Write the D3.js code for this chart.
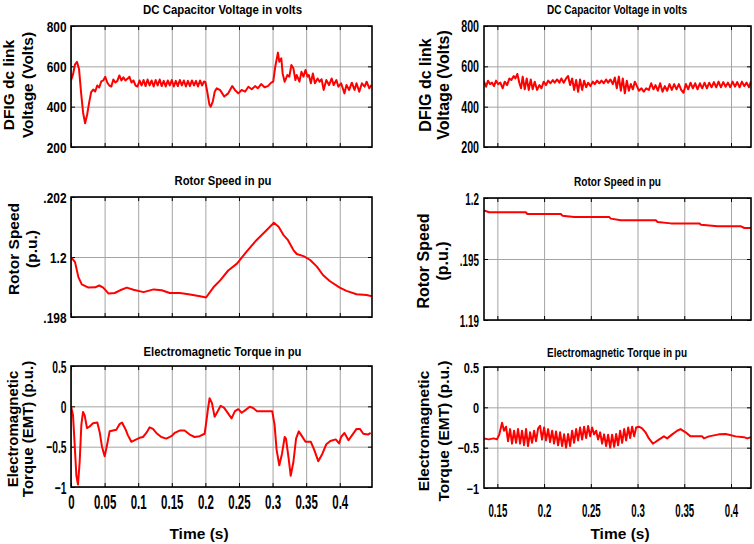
<!DOCTYPE html>
<html>
<head>
<meta charset="utf-8">
<script src="https://cdn.jsdelivr.net/npm/d3@7"></script>
<style>
  body { margin: 0; background: #fff; }
  svg { display: block; }
  .narrow { font-family: "Liberation Sans", Arial, sans-serif; font-weight: bold; }
  .lab { font-family: "Liberation Sans", Arial, sans-serif; font-weight: bold; }
</style>
</head>
<body>
<script>
// ---- tick values / labels ----
var timeTicksLeft = [0, 0.05, 0.1, 0.15, 0.2, 0.25, 0.3, 0.35, 0.4];
var timeTicksRight = [0.15, 0.2, 0.25, 0.3, 0.35, 0.4];
var voltTicks = [200, 400, 600, 800];
var speedTicksLeft = [1.198, 1.2, 1.202];
var speedLabelsLeft = [".198", "1.2", ".202"];
var speedTicksRight = [1.19, 1.195, 1.2];
var speedLabelsRight = ["1.19", ".195", "1.2"];
var torqueTicks = [-1, -0.5, 0, 0.5];

// ---- series: [time (s), value] ----
var dcLeft = [[0,530],[0.003,560],[0.006,610],[0.009,622],[0.012,585],[0.015,470],[0.018,370],[0.021,318],[0.024,360],[0.027,420],
  [0.030,472],[0.033,485],[0.036,475],[0.039,505],[0.042,495],[0.045,525],[0.048,530],[0.051,548],[0.054,520],[0.057,505],
  [0.060,500],[0.063,535],[0.066,520],[0.069,528],[0.072,555],[0.075,530],[0.078,545],[0.081,530],[0.084,538],[0.087,548],
  [0.090,520],[0.093,530],[0.096,505],[0.099,500],[0.102,530],[0.105,505],[0.108,532],[0.111,502],[0.114,535],[0.117,505],
  [0.120,530],[0.123,500],[0.126,532],[0.129,505],[0.132,535],[0.135,502],[0.138,528],[0.141,500],[0.144,530],[0.147,505],
  [0.150,532],[0.153,500],[0.156,528],[0.159,502],[0.162,532],[0.165,505],[0.168,530],[0.171,500],[0.174,528],[0.177,502],
  [0.180,530],[0.183,505],[0.186,528],[0.189,500],[0.192,530],[0.195,505],[0.198,525],[0.200,522],[0.203,470],[0.206,410],
  [0.208,400],[0.211,425],[0.214,475],[0.217,491],[0.222,482],[0.228,450],[0.234,466],[0.240,502],[0.244,483],[0.249,466],
  [0.254,483],[0.259,474],[0.264,499],[0.269,486],[0.274,502],[0.278,491],[0.283,512],[0.288,496],[0.293,502],[0.298,519],
  [0.301,524],[0.304,598],[0.308,668],[0.310,623],[0.313,640],[0.315,565],[0.318,524],[0.322,557],[0.325,549],[0.328,607],
  [0.331,590],[0.334,532],[0.336,557],[0.340,524],[0.343,573],[0.346,549],[0.349,582],[0.352,549],[0.354,557],[0.357,516],
  [0.360,565],[0.363,516],[0.367,540],[0.370,524],[0.373,536],[0.376,483],[0.380,532],[0.384,507],[0.388,540],[0.391,507],
  [0.395,532],[0.398,499],[0.402,516],[0.407,466],[0.410,507],[0.414,483],[0.418,519],[0.422,483],[0.425,516],[0.429,474],
  [0.433,516],[0.437,499],[0.440,524],[0.444,491],[0.447,507]];

var speedLeft = [[0,1.2000],[0.006,1.19983],[0.011,1.19933],[0.016,1.19909],[0.026,1.19898],[0.036,1.19899],[0.042,1.19905],
  [0.048,1.19898],[0.056,1.19878],[0.065,1.19880],[0.073,1.19889],[0.083,1.19898],[0.093,1.19891],[0.108,1.19883],
  [0.123,1.19892],[0.135,1.19889],[0.147,1.19880],[0.162,1.19880],[0.175,1.19876],[0.192,1.19869],[0.201,1.19865],
  [0.212,1.19899],[0.222,1.19922],[0.234,1.19955],[0.247,1.19978],[0.261,1.20017],[0.276,1.20056],[0.291,1.20089],
  [0.302,1.20114],[0.309,1.20101],[0.316,1.20074],[0.323,1.20056],[0.331,1.20023],[0.336,1.20010],[0.346,1.20003],
  [0.356,1.19990],[0.366,1.19968],[0.375,1.19940],[0.385,1.19920],[0.400,1.19898],[0.410,1.19887],[0.425,1.19876],
  [0.440,1.19873],[0.448,1.19869]];

var torqueLeft = [[0,0],[0.003,-0.11],[0.0055,-0.48],[0.008,-0.86],[0.0104,-0.97],[0.0129,-0.69],[0.0154,-0.23],[0.0179,-0.07],
  [0.0203,-0.11],[0.0238,-0.27],[0.0278,-0.25],[0.0327,-0.21],[0.0392,-0.20],[0.0427,-0.32],[0.0461,-0.50],[0.0501,-0.62],
  [0.0541,-0.46],[0.0575,-0.31],[0.0625,-0.30],[0.0675,-0.29],[0.0724,-0.22],[0.0759,-0.20],[0.0809,-0.28],[0.0848,-0.36],
  [0.0898,-0.44],[0.0972,-0.41],[0.1022,-0.39],[0.1071,-0.38],[0.1121,-0.33],[0.1171,-0.26],[0.1220,-0.28],[0.1270,-0.33],
  [0.1344,-0.38],[0.1419,-0.40],[0.1493,-0.37],[0.1543,-0.33],[0.1617,-0.30],[0.1691,-0.30],[0.1766,-0.35],[0.1840,-0.38],
  [0.1915,-0.37],[0.1989,-0.34],[0.2014,-0.19],[0.2039,-0.03],[0.2063,0.10],[0.2098,0.04],[0.2138,-0.13],[0.2178,-0.07],
  [0.2227,0.007],[0.228,-0.02],[0.234,-0.09],[0.239,-0.15],[0.244,-0.06],[0.249,-0.035],[0.254,-0.08],[0.259,-0.05],
  [0.266,-0.006],[0.271,-0.02],[0.277,-0.06],[0.288,-0.06],[0.2995,-0.06],[0.303,-0.23],[0.306,-0.54],[0.310,-0.73],
  [0.314,-0.59],[0.318,-0.38],[0.320,-0.40],[0.324,-0.65],[0.327,-0.86],[0.331,-0.69],[0.335,-0.40],[0.339,-0.31],
  [0.343,-0.36],[0.349,-0.44],[0.357,-0.44],[0.362,-0.54],[0.368,-0.68],[0.374,-0.59],[0.380,-0.47],[0.386,-0.43],
  [0.394,-0.41],[0.399,-0.46],[0.402,-0.38],[0.407,-0.33],[0.413,-0.42],[0.419,-0.35],[0.425,-0.28],[0.430,-0.28],
  [0.435,-0.34],[0.442,-0.35],[0.446,-0.33]];

var dcRight = [[0.1357,524],[0.1379,499],[0.1400,529],[0.1421,512],[0.1443,519],[0.1464,502],[0.1486,529],[0.1507,512],
  [0.1532,519],[0.1557,491],[0.1579,524],[0.1604,507],[0.1629,540],[0.1650,532],[0.1675,552],[0.1693,540],[0.1714,562],
  [0.1736,516],[0.1753,491],[0.1771,549],[0.1793,486],[0.1814,540],[0.1836,483],[0.1857,535],[0.1878,486],[0.1900,524],
  [0.1925,483],[0.1950,507],[0.1971,491],[0.1996,524],[0.2021,507],[0.2043,529],[0.2068,516],[0.2093,532],[0.2114,519],
  [0.2139,535],[0.2164,519],[0.2185,540],[0.2210,519],[0.2235,540],[0.2257,552],[0.2278,507],[0.2300,540],[0.2321,483],
  [0.2343,532],[0.2364,474],[0.2385,535],[0.2407,483],[0.2428,529],[0.2450,496],[0.2471,519],[0.2496,502],[0.2521,524],
  [0.2542,512],[0.2567,529],[0.2592,516],[0.2614,529],[0.2639,516],[0.2664,535],[0.2685,519],[0.2710,535],[0.2735,512],
  [0.2757,545],[0.2778,491],[0.2800,549],[0.2821,479],[0.2842,540],[0.2864,466],[0.2885,529],[0.2907,479],[0.2928,512],
  [0.2950,486],[0.2971,524],[0.2996,499],[0.3014,479],[0.3042,491],[0.3067,474],[0.3092,491],[0.3121,483],[0.3146,516],
  [0.3171,486],[0.3192,507],[0.3217,479],[0.3242,516],[0.3267,474],[0.3292,502],[0.3317,479],[0.3342,512],[0.3367,483],
  [0.3392,512],[0.3417,486],[0.3442,512],[0.3467,483],[0.3492,469],[0.3517,512],[0.3542,486],[0.3567,519],[0.3592,491],
  [0.3617,516],[0.3642,486],[0.3667,516],[0.3692,491],[0.3717,519],[0.3742,491],[0.3767,519],[0.3792,496],[0.3817,522],
  [0.3842,496],[0.3867,524],[0.3892,496],[0.3917,522],[0.3942,499],[0.3967,519],[0.3992,496],[0.4017,524],[0.4042,499],
  [0.4067,522],[0.4092,496],[0.4117,524],[0.4142,502],[0.4167,519],[0.4192,496],[0.4213,524]];

var speedRight = [[0.1357,1.19899],[0.1411,1.19883],[0.1804,1.19883],[0.1821,1.19869],[0.2179,1.19869],[0.2196,1.19855],
  [0.2321,1.19844],[0.2696,1.19844],[0.2714,1.19831],[0.2821,1.19817],[0.3196,1.19817],[0.3214,1.19803],[0.3357,1.19792],
  [0.3661,1.19792],[0.3679,1.19781],[0.3857,1.19768],[0.4107,1.19768],[0.4143,1.19754],[0.4214,1.19754]];

var torqueRight = [[0.1357,-0.385],[0.1407,-0.397],[0.1461,-0.385],[0.1496,-0.397],[0.1521,-0.335],[0.1550,-0.19],[0.1571,-0.29],
  [0.1593,-0.24],[0.1614,-0.42],[0.1636,-0.27],[0.1657,-0.45],[0.1679,-0.29],[0.1700,-0.44],[0.1721,-0.27],[0.1743,-0.45],
  [0.1764,-0.29],[0.1786,-0.47],[0.1807,-0.27],[0.1828,-0.48],[0.1850,-0.31],[0.1871,-0.44],[0.1893,-0.29],[0.1914,-0.42],
  [0.1936,-0.26],[0.1957,-0.23],[0.1978,-0.40],[0.2000,-0.25],[0.2021,-0.41],[0.2043,-0.27],[0.2064,-0.43],[0.2086,-0.29],
  [0.2107,-0.45],[0.2128,-0.30],[0.2150,-0.47],[0.2171,-0.31],[0.2193,-0.48],[0.2214,-0.335],[0.2235,-0.50],[0.2257,-0.33],
  [0.2278,-0.48],[0.2300,-0.29],[0.2321,-0.44],[0.2343,-0.27],[0.2364,-0.41],[0.2385,-0.25],[0.2407,-0.40],[0.2428,-0.24],
  [0.2450,-0.38],[0.2471,-0.23],[0.2493,-0.36],[0.2514,-0.25],[0.2535,-0.335],[0.2557,-0.29],[0.2578,-0.40],[0.2600,-0.31],
  [0.2621,-0.45],[0.2642,-0.335],[0.2664,-0.48],[0.2685,-0.34],[0.2707,-0.50],[0.2728,-0.34],[0.2750,-0.49],[0.2771,-0.33],
  [0.2792,-0.47],[0.2814,-0.29],[0.2835,-0.44],[0.2857,-0.27],[0.2878,-0.41],[0.2900,-0.25],[0.2921,-0.38],[0.2942,-0.24],
  [0.2964,-0.36],[0.2985,-0.25],[0.3014,-0.24],[0.3049,-0.26],[0.3085,-0.31],[0.3121,-0.385],[0.3164,-0.45],[0.3192,-0.43],
  [0.3228,-0.40],[0.3282,-0.36],[0.3317,-0.385],[0.3371,-0.335],[0.3424,-0.29],[0.3460,-0.27],[0.3514,-0.31],[0.3567,-0.36],
  [0.3692,-0.36],[0.3710,-0.385],[0.3764,-0.36],[0.3871,-0.335],[0.3942,-0.33],[0.3978,-0.34],[0.4049,-0.36],[0.4138,-0.37],
  [0.4174,-0.385],[0.4213,-0.37]];

var w = 754, h = 544;
var sx = 0.82; // condense tick labels like the narrow font of the original

var svg = d3.select("body")
  .append("svg")
  .attr("width", w)
  .attr("height", h);

var fmtTime = d3.format("~g");

// panel layout (left column, right column)
var panels = [
  { x: 71, y: 26, pw: 301, ph: 121, xd: [0, 0.448], xt: timeTicksLeft, yd: [200, 800], yt: voltTicks, yl: null,
    data: dcLeft, title: "DC Capacitor Voltage in volts", tx: 222.5, ty: 14, tl: 159,
    ylab: ["DFIG dc link", "Voltage (Volts)"], lx: [13.5, 32.5], ly: 85, lf: 15.5,
    yf: 14.5, ys: 1, yp: 4.5, xf: 0 },
  { x: 71, y: 197, pw: 301, ph: 120, xd: [0, 0.448], xt: timeTicksLeft, yd: [1.198, 1.202], yt: speedTicksLeft, yl: speedLabelsLeft,
    data: speedLeft, title: "Rotor Speed in pu", tx: 223, ty: 184.5, tl: 97,
    ylab: ["Rotor Speed", "(p.u.)"], lx: [19, 36.7], ly: 249, lf: 15.5,
    yf: 14.5, ys: 1, yp: 4.5, xf: 0 },
  { x: 71, y: 366, pw: 301, ph: 121, xd: [0, 0.448], xt: timeTicksLeft, yd: [-1, 0.5], yt: torqueTicks, yl: null,
    data: torqueLeft, title: "Electromagnetic Torque in pu", tx: 222.5, ty: 355.5, tl: 158,
    ylab: ["Electromagnetic", "Torque (EMT) (p.u.)"], lx: [17.5, 33.3], ly: 429, lf: 15,
    yf: 12.5, ys: 1.35, yp: 4.5, xf: 14, xs: 1.45, xb: 21.5, timeX: 199 },
  { x: 484, y: 26, pw: 267, ph: 121, xd: [0.1357, 0.4214], xt: timeTicksRight, yd: [200, 800], yt: voltTicks, yl: null,
    data: dcRight, title: "DC Capacitor Voltage in volts", tx: 617, ty: 14, tl: 140,
    ylab: ["DFIG dc link", "Voltage (Volts)"], lx: [430.7, 449], ly: 85, lf: 16,
    yf: 13, ys: 1.2, yp: 5, xf: 0 },
  { x: 484, y: 198, pw: 267, ph: 122, xd: [0.1357, 0.4214], xt: timeTicksRight, yd: [1.19, 1.2], yt: speedTicksRight, yl: speedLabelsRight,
    data: speedRight, title: "Rotor Speed in pu", tx: 617.5, ty: 185.5, tl: 87,
    ylab: ["Rotor Speed", "(p.u.)"], lx: [429, 448], ly: 261, lf: 16,
    yf: 12, ys: 1.4, yp: 5, xf: 0 },
  { x: 484, y: 367, pw: 267, ph: 121, xd: [0.1357, 0.4214], xt: timeTicksRight, yd: [-1, 0.5], yt: torqueTicks, yl: null,
    data: torqueRight, title: "Electromagnetic Torque in pu", tx: 617, ty: 357, tl: 140,
    ylab: ["Electromagnetic", "Torque (EMT) (p.u.)"], lx: [429, 449], ly: 431, lf: 15.5,
    yf: 13.3, ys: 1.05, yp: 5, xf: 11.8, xs: 1.55, xb: 28.7, timeX: 620 }
];

function noDomain(g) { g.select(".domain").remove(); }

panels.forEach(function (p, i) {
  var xScale = d3.scaleLinear().domain(p.xd).range([p.x, p.x + p.pw]);
  var yScale = d3.scaleLinear().domain(p.yd).range([p.y + p.ph, p.y]);

  // grid
  var gx = svg.append("g")
    .attr("transform", "translate(0," + (p.y + p.ph) + ")")
    .call(d3.axisBottom(xScale).tickValues(p.xt).tickSize(-p.ph).tickFormat(""))
    .call(noDomain);
  var gy = svg.append("g")
    .attr("transform", "translate(" + p.x + ",0)")
    .call(d3.axisLeft(yScale).tickValues(p.yt).tickSize(-p.pw).tickFormat(""))
    .call(noDomain);
  [gx, gy].forEach(function (g) {
    g.selectAll("line").attr("stroke", "#a4a4a4").attr("stroke-width", 1);
  });

  // inward tick marks on all four sides
  var tk = 4;
  svg.append("g").attr("transform", "translate(0," + (p.y + p.ph) + ")")
    .call(d3.axisBottom(xScale).tickValues(p.xt).tickSize(-tk).tickFormat("")).call(noDomain);
  svg.append("g").attr("transform", "translate(0," + p.y + ")")
    .call(d3.axisTop(xScale).tickValues(p.xt).tickSize(-tk).tickFormat("")).call(noDomain);
  svg.append("g").attr("transform", "translate(" + p.x + ",0)")
    .call(d3.axisLeft(yScale).tickValues(p.yt).tickSize(-tk).tickFormat("")).call(noDomain);
  svg.append("g").attr("transform", "translate(" + (p.x + p.pw) + ",0)")
    .call(d3.axisRight(yScale).tickValues(p.yt).tickSize(-tk).tickFormat("")).call(noDomain);

  // y tick labels
  var yl = svg.append("g")
    .attr("transform", "translate(" + p.x + ",0)")
    .call(d3.axisLeft(yScale).tickValues(p.yt).tickSize(0)
      .tickFormat(function (d) { return p.yl ? p.yl[p.yt.indexOf(d)] : d3.format("~g")(d); }))
    .call(noDomain);
  yl.selectAll("text")
    .attr("class", "narrow")
    .attr("font-size", p.yf)
    .attr("x", 0)
    .attr("dy", "0.36em")
    .attr("transform", "translate(" + (-p.yp) + ",0) scale(" + sx + "," + p.ys + ")");

  // x tick labels (bottom row only)
  if (p.xf) {
    var xl = svg.append("g")
      .attr("transform", "translate(0," + (p.y + p.ph) + ")")
      .call(d3.axisBottom(xScale).tickValues(p.xt).tickSize(0).tickFormat(fmtTime))
      .call(noDomain);
    xl.selectAll("text")
      .attr("class", "narrow")
      .attr("font-size", p.xf)
      .attr("y", 0)
      .attr("dy", null)
      .attr("transform", "translate(0," + p.xb + ") scale(" + sx + "," + p.xs + ")");

    svg.append("text")
      .attr("class", "lab")
      .attr("x", p.timeX)
      .attr("y", 539)
      .attr("text-anchor", "middle")
      .attr("font-size", 15.5)
      .text("Time (s)");
  }

  // curve
  svg.append("clipPath").attr("id", "clip" + i)
    .append("rect").attr("x", p.x).attr("y", p.y).attr("width", p.pw).attr("height", p.ph);

  var line = d3.line()
    .x(function (d) { return xScale(d[0]); })
    .y(function (d) { return yScale(d[1]); });

  svg.append("path")
    .datum(p.data)
    .attr("clip-path", "url(#clip" + i + ")")
    .attr("fill", "none")
    .attr("stroke", "#ff0000")
    .attr("stroke-width", 2)
    .attr("stroke-linejoin", "round")
    .attr("d", line);

  // frame
  svg.append("rect")
    .attr("x", p.x).attr("y", p.y)
    .attr("width", p.pw).attr("height", p.ph)
    .attr("fill", "none")
    .attr("stroke", "#000")
    .attr("stroke-width", 1.6);

  // title
  svg.append("text")
    .attr("class", "narrow")
    .attr("x", p.tx)
    .attr("y", p.ty)
    .attr("text-anchor", "middle")
    .attr("font-size", 13)
    .attr("textLength", p.tl)
    .attr("lengthAdjust", "spacingAndGlyphs")
    .text(p.title);

  // y axis label, two lines, rotated
  p.ylab.forEach(function (s, k) {
    svg.append("text")
      .attr("class", "lab")
      .attr("font-size", p.lf)
      .attr("text-anchor", "middle")
      .attr("transform", "translate(" + p.lx[k] + "," + p.ly + ") rotate(-90)")
      .text(s);
  });
});
</script>
</body>
</html>
